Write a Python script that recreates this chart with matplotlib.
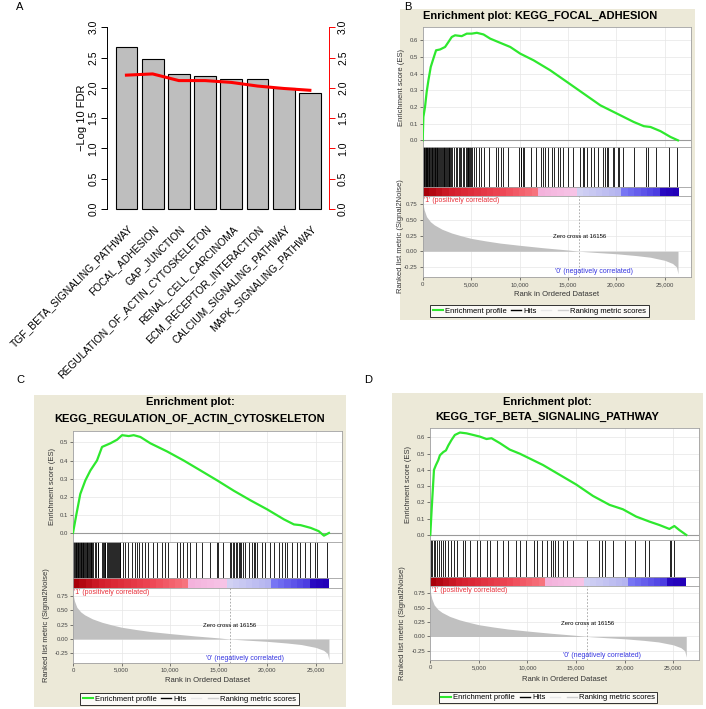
import numpy as np
import matplotlib
matplotlib.use("Agg")
import matplotlib.pyplot as plt
from matplotlib.colors import LinearSegmentedColormap
from matplotlib.lines import Line2D
from matplotlib.patches import Rectangle

plt.rcParams['font.family'] = ['Liberation Sans', 'DejaVu Sans']

W, H = 706, 709

# ---------------- Panel A data ----------------
pathways = ["TGF_BETA_SIGNALING_PATHWAY", "FOCAL_ADHESION", "GAP_JUNCTION",
            "REGULATION_OF_ACTIN_CYTOSKELETON", "RENAL_CELL_CARCINOMA",
            "ECM_RECEPTOR_INTERACTION", "CALCIUM_SIGNALING_PATHWAY",
            "MAPK_SIGNALING_PATHWAY"]
fdr_bars = [2.68, 2.47, 2.23, 2.19, 2.14, 2.14, 2.00, 1.92]
fdr_line = [2.21, 2.23, 2.12, 2.12, 2.09, 2.03, 1.99, 1.96]
fdr_ticks = [0.0, 0.5, 1.0, 1.5, 2.0, 2.5, 3.0]

# ---------------- GSEA shared data ----------------
n_genes = 26357
zero_cross = 16156
rank_ticks = [0, 5000, 10000, 15000, 20000, 25000]
metric_rank = [0, 50, 150, 400, 800, 1200, 2000, 3000, 4000, 5000, 6500, 8000,
               10000, 12500, 15000, 16156, 18000, 20000, 22000, 23500, 25000,
               25800, 26200, 26357]
metric_value = [0.80, 0.74, 0.66, 0.55, 0.47, 0.42, 0.35, 0.29, 0.245, 0.205,
                0.165, 0.13, 0.095, 0.055, 0.02, 0.0, -0.02, -0.04, -0.068,
                -0.095, -0.145, -0.195, -0.25, -0.36]
metric_ticks = [-0.25, 0.0, 0.25, 0.5, 0.75]

# Panel B: KEGG_FOCAL_ADHESION
focal_title = ["Enrichment plot: KEGG_FOCAL_ADHESION"]
focal_es_rank = [0, 70, 240, 410, 590, 830, 1100, 1380, 1790, 2310, 2660, 3000,
                 3340, 4030, 4550, 5070, 5590, 6280, 6970, 8000, 9040, 10070,
                 11450, 13170, 14900, 16620, 18340, 20070, 21790, 22830, 23520,
                 24550, 25590, 26357]
focal_es = [0, 0.14, 0.2, 0.29, 0.36, 0.44, 0.49, 0.54, 0.545, 0.56, 0.59, 0.62,
            0.63, 0.625, 0.64, 0.64, 0.645, 0.635, 0.61, 0.585, 0.56, 0.52, 0.48,
            0.42, 0.35, 0.28, 0.21, 0.16, 0.11, 0.085, 0.08, 0.055, 0.02, 0.0]
focal_hits = [30, 90, 150, 220, 300, 360, 420, 480, 560, 640, 700, 780, 850, 920,
              1000, 1080, 1150, 1230, 1300, 1380, 1450, 1520, 1620, 1700, 1780,
              1850, 1950, 2050, 2150, 2250, 2350, 2450, 2520, 2600, 2680, 2760,
              2850, 2900, 3050, 3200, 3400, 3550, 3700, 3850, 4000, 4150, 4300,
              4450, 4600, 4650, 4720, 4800, 4900, 5000, 5100, 5300, 5500, 5800,
              6000, 6350, 6860, 7550, 7800, 8070, 8340, 8830, 9970, 10100, 10200,
              10350, 10480, 11170, 11690, 12210, 12380, 12620, 12900, 13310,
              13520, 13930, 14200, 14450, 14960, 15480, 16280, 16520, 16690,
              16970, 17380, 17720, 18070, 18590, 18800, 19000, 19100, 19620,
              19800, 20140, 20310, 20650, 21860, 23070, 23240, 24100, 25480, 26280]

# Panel C: KEGG_REGULATION_OF_ACTIN_CYTOSKELETON
actin_title = ["Enrichment plot:", "KEGG_REGULATION_OF_ACTIN_CYTOSKELETON"]
actin_es_rank = [0, 340, 750, 1270, 1790, 2470, 2990, 3850, 4540, 5050, 5740,
                 6250, 6940, 7970, 9690, 11400, 13130, 14850, 16560, 18280, 20000,
                 21720, 22750, 23440, 24470, 25300, 25840, 26357]
actin_es = [0, 0.1, 0.215, 0.29, 0.345, 0.40, 0.475, 0.495, 0.515, 0.54, 0.535,
            0.54, 0.53, 0.495, 0.45, 0.4, 0.345, 0.29, 0.233, 0.18, 0.13, 0.075,
            0.047, 0.043, 0.028, 0.01, -0.015, 0.0]
actin_hits = [40, 110, 180, 260, 330, 400, 480, 550, 620, 700, 780, 850, 930,
              1000, 1080, 1150, 1240, 1320, 1400, 1480, 1560, 1650, 1740, 1820,
              1900, 2000, 2100, 2250, 2400, 2550, 2610, 2950, 3050, 3150, 3250,
              3320, 3500, 3600, 3700, 3800, 3900, 4000, 4100, 4200, 4300, 4400,
              4500, 4600, 4700, 4800, 4850, 5190, 5360, 5700, 6050, 6390, 6560,
              6800, 7080, 7420, 7770, 8280, 8690, 9140, 9480, 9830, 10690, 11030,
              11370, 11790, 12060, 12680, 13260, 14120, 14810, 14980, 15430,
              16150, 16300, 16450, 16600, 16750, 16900, 17050, 17200, 17350,
              17500, 17730, 18080, 18450, 18600, 18750, 18900, 19450, 19790,
              20310, 20650, 21170, 21510, 21860, 22030, 22540, 23060, 23400,
              23920, 24430, 24950, 25120, 26150]

# Panel D: KEGG_TGF_BETA_SIGNALING_PATHWAY
tgf_title = ["Enrichment plot:", "KEGG_TGF_BETA_SIGNALING_PATHWAY"]
tgf_es_rank = [0, 137, 377, 580, 820, 990, 1340, 1610, 1850, 2190, 2530, 3050,
               3730, 4420, 5100, 5790, 6300, 7160, 8180, 9210, 9900, 11610, 13320,
               15030, 16750, 18460, 19830, 21200, 22570, 23600, 24620, 25130,
               25650, 26357]
tgf_es = [0, 0.154, 0.4, 0.43, 0.46, 0.49, 0.51, 0.52, 0.55, 0.585, 0.615, 0.63,
          0.625, 0.615, 0.605, 0.59, 0.595, 0.565, 0.525, 0.5, 0.48, 0.43, 0.37,
          0.31, 0.24, 0.185, 0.158, 0.113, 0.082, 0.061, 0.037, 0.055, 0.03, 0.0]
tgf_hits = [70, 200, 340, 510, 680, 860, 1100, 1300, 1540, 1780, 2120, 2400, 2740,
            3360, 3600, 4040, 4790, 5070, 5820, 6100, 6850, 7530, 8050, 8840, 9250,
            9860, 10680, 10960, 11470, 11990, 12400, 12600, 12840, 13180, 13700,
            14040, 14730, 16100, 17400, 17640, 17980, 18840, 20030, 21060, 22090,
            22530, 24660, 24830, 25070]

# ---------------- styling ----------------
BEIGE = "#ece9d8"
GREEN = "#2ee82e"
FRAME = "#a0a0a0"
XMAX = 27700

gsea_cmap = LinearSegmentedColormap.from_list("gsea", [
    (0.0, "#a80008"), (0.1, "#d41e2c"), (0.3, "#ee4654"), (0.45, "#f87882"),
    (0.455, "#f4b2dc"), (0.61, "#f8c6e8"), (0.615, "#d2d2f4"), (0.77, "#b4b4f0"),
    (0.775, "#7e7ef8"), (0.93, "#4a3ae0"), (0.935, "#2a0cc4"), (1.0, "#2200b8")],
    N=40)


def ftext(fig, x, y, s, **kw):
    return fig.text(x / W, 1 - y / H, s, **kw)


def px_axes(fig, x0, y0, x1, y1):
    return fig.add_axes([x0 / W, 1 - y1 / H, (x1 - x0) / W, (y1 - y0) / H])


def frame(ax):
    for s in ax.spines.values():
        s.set_color(FRAME)
        s.set_linewidth(0.6)


def gsea_panel(fig, lay, title, es_rank, es_val, hits, es_ticks):
    x0, x1 = lay["x"]
    bx0, by0, bx1, by1 = lay["bg"]
    fig.patches.append(Rectangle((bx0 / W, 1 - by1 / H), (bx1 - bx0) / W,
                                 (by1 - by0) / H, transform=fig.transFigure,
                                 facecolor=BEIGE, edgecolor="none", zorder=-5))
    for ty, line in zip(lay["title_y"], title):
        ftext(fig, lay["title_x"], ty, line, ha="center", va="center",
              fontsize=8, fontweight="bold")

    es_top, es_bot, cb_top, cb_bot, m_bot = lay["rows"]

    # enrichment score
    ax = px_axes(fig, x0, es_top, x1, es_bot)
    ax.grid(color="#e6e6e6", lw=0.5, zorder=0)
    ax.axhline(0, color="#9a9a9a", lw=0.8, zorder=2)
    ax.plot(es_rank, es_val, color=GREEN, lw=1.6, zorder=3)
    ax.set_xlim(0, XMAX)
    ax.set_ylim(*lay["es_ylim"])
    ax.set_xticks(rank_ticks)
    ax.set_yticks(es_ticks)
    ax.set_yticklabels([f"{t:.1f}" for t in es_ticks])
    ax.tick_params(axis="x", length=0, labelbottom=False)
    ax.tick_params(axis="y", length=2, width=0.5, pad=1.5, labelsize=4.3,
                   colors="#444444")
    frame(ax)
    ftext(fig, lay["ylab_x"][0], (es_top + es_bot) / 2, "Enrichment score (ES)",
          rotation=90, ha="center", va="center", fontsize=5.5, color="#333333")

    # hits
    axh = px_axes(fig, x0, es_bot, x1, cb_top)
    axh.vlines(hits, 0, 1, color="black", lw=0.6)
    axh.set_xlim(0, XMAX)
    axh.set_ylim(0, 1)
    axh.set_xticks([])
    axh.set_yticks([])
    frame(axh)

    # ranking colour bar
    axc = px_axes(fig, x0, cb_top, x1, cb_bot)
    axc.imshow(np.linspace(0, 1, 200)[None, :], cmap=gsea_cmap, aspect="auto",
               extent=[0, n_genes, 0, 1], interpolation="nearest")
    axc.set_xlim(0, XMAX)
    axc.set_ylim(0, 1)
    axc.set_xticks([])
    axc.set_yticks([])
    frame(axc)

    # ranked list metric
    axm = px_axes(fig, x0, cb_bot, x1, m_bot)
    axm.grid(color="#e6e6e6", lw=0.5, zorder=0)
    axm.fill_between(metric_rank, metric_value, 0, color="#c0c0c0", lw=0,
                     zorder=2)
    axm.axvline(zero_cross, color="#a0a0a0", lw=0.6, ls=(0, (2, 2)), zorder=3)
    axm.set_xlim(0, XMAX)
    axm.set_ylim(-0.41, 0.88)
    axm.set_xticks(rank_ticks)
    axm.set_xticklabels([f"{t:,}" for t in rank_ticks])
    axm.set_yticks(metric_ticks)
    axm.set_yticklabels([f"{t:.2f}" for t in metric_ticks])
    axm.tick_params(length=2, width=0.5, pad=1.5, labelsize=4.3,
                    colors="#444444")
    frame(axm)
    axm.text(150, 0.86, "'1' (positively correlated)", color="#e8303a",
             fontsize=5, ha="left", va="top")
    axm.text(17700, -0.33, "'0' (negatively correlated)", color="#3535e0",
             fontsize=5, ha="center", va="center")
    axm.text(zero_cross, 0.23, "Zero cross at 16156", color="black",
             fontsize=4.3, ha="center", va="center")
    ftext(fig, lay["ylab_x"][1], (cb_bot + m_bot) / 2,
          "Ranked list metric (Signal2Noise)", rotation=90, ha="center",
          va="center", fontsize=5.5, color="#333333")
    ftext(fig, (x0 + x1) / 2, lay["xlab_y"], "Rank in Ordered Dataset",
          ha="center", va="center", fontsize=5.5, color="#333333")

    handles = [Line2D([], [], color=GREEN, lw=1.5),
               Line2D([], [], color="black", lw=1),
               Line2D([], [], color="#e8e8e8", lw=1),
               Line2D([], [], color="#cfcfcf", lw=1)]
    labels = ["Enrichment profile", "Hits", "", "Ranking metric scores"]
    lx0, ly0, lx1, ly1 = lay["legend"]
    leg = fig.legend(handles, labels, loc="center",
                     bbox_to_anchor=((lx0 + lx1) / 2 / W, 1 - (ly0 + ly1) / 2 / H),
                     ncol=4, fontsize=5.5, frameon=True, fancybox=False,
                     borderpad=0.3, handlelength=1.3, handletextpad=0.3,
                     columnspacing=0.6)
    leg.get_frame().set_edgecolor("black")
    leg.get_frame().set_linewidth(0.7)


fig = plt.figure(figsize=(W / 100, H / 100), dpi=100)
fig.patch.set_facecolor("white")

# ---------------- Panel A ----------------
axA = px_axes(fig, 107.3, 20.0, 329.0, 216.3)
xpos = 0.7 + 1.2 * np.arange(len(pathways))
axA.bar(xpos, fdr_bars, width=1.0, color="#bebebe", edgecolor="black", lw=0.8)
axA.set_xlim(-0.176, 9.976)
axA.set_ylim(-0.12, 3.12)
axA.set_xticks([])
axA.set_yticks(fdr_ticks)
axA.set_yticklabels([f"{t:.1f}" for t in fdr_ticks], rotation=90, va="center")
axA.tick_params(axis="y", length=4.5, width=0.7, pad=2, labelsize=7.5)
for s in ["top", "bottom", "right"]:
    axA.spines[s].set_visible(False)
axA.spines["left"].set_bounds(0, 3)
axA.spines["left"].set_linewidth(0.7)

axA2 = axA.twinx()
axA2.plot(xpos, fdr_line, color="red", lw=2.2)
axA2.set_ylim(-0.12, 3.12)
axA2.set_yticks(fdr_ticks)
axA2.set_yticklabels([f"{t:.1f}" for t in fdr_ticks], rotation=90, va="center")
axA2.tick_params(axis="y", length=4.5, width=0.7, pad=2, labelsize=7.5,
                 color="red")
for s in ["top", "bottom", "left"]:
    axA2.spines[s].set_visible(False)
axA2.spines["right"].set_bounds(0, 3)
axA2.spines["right"].set_color("red")
axA2.spines["right"].set_linewidth(0.7)

for xp, name in zip(xpos, pathways):
    axA.text(xp + 0.2, -0.3, name, rotation=45, rotation_mode="anchor",
             ha="right", va="center", fontsize=7.4, clip_on=False)

ftext(fig, 82, 118, "\u2212Log 10 FDR", rotation=90, ha="center", va="center",
      fontsize=8)

# ---------------- Panels B, C, D ----------------
lay_b = dict(bg=(400, 8.5, 695, 320), title_x=540, title_y=[16], x=(422.7, 691),
             rows=(27.3, 147, 186.5, 196, 277), es_ylim=(-0.04, 0.678),
             ylab_x=(402, 400.5), xlab_y=294, legend=(432, 304, 647, 318))
lay_c = dict(bg=(34, 395, 346, 707), title_x=190, title_y=[402, 419], x=(73, 342),
             rows=(431, 542, 578.3, 588.3, 662.7), es_ylim=(-0.05, 0.563),
             ylab_x=(52, 47), xlab_y=681, legend=(83, 692, 296, 706))
lay_d = dict(bg=(392, 393, 703, 705), title_x=547, title_y=[401.7, 416.7],
             x=(430.3, 699.3), rows=(428.3, 540, 577.3, 586, 660),
             es_ylim=(-0.031, 0.656), ylab_x=(408, 403), xlab_y=679.3,
             legend=(441, 691, 655, 704))

gsea_panel(fig, lay_b, focal_title, focal_es_rank, focal_es, focal_hits,
           [0.0, 0.1, 0.2, 0.3, 0.4, 0.5, 0.6])
gsea_panel(fig, lay_c, actin_title, actin_es_rank, actin_es, actin_hits,
           [0.0, 0.1, 0.2, 0.3, 0.4, 0.5])
gsea_panel(fig, lay_d, tgf_title, tgf_es_rank, tgf_es, tgf_hits,
           [0.0, 0.1, 0.2, 0.3, 0.4, 0.5, 0.6])

# panel letters
for lx, ly, letter in [(20, 7.5, "A"), (408, 7.5, "B"), (20, 380, "C"),
                       (368, 380, "D")]:
    ftext(fig, lx, ly, letter, ha="center", va="center", fontsize=8)

fig.savefig("out.png", dpi=100, facecolor="white")
